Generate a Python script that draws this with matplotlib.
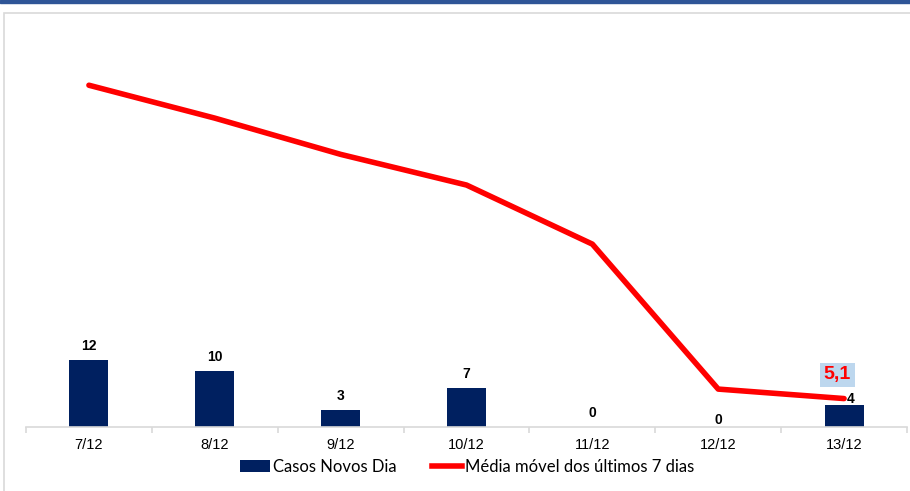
"""Casos novos por dia e média móvel de 7 dias."""

import matplotlib

matplotlib.use("Agg")
import matplotlib.pyplot as plt
import numpy as np
from matplotlib.lines import Line2D
from matplotlib.patches import Patch, Rectangle

dias = ["7/12", "8/12", "9/12", "10/12", "11/12", "12/12", "13/12"]
casos = [12, 10, 3, 7, 0, 0, 4]
media_movel = [61.3, 55.4, 48.9, 43.4, 32.8, 6.8, 5.1]

AZUL = "#002060"
VERMELHO = "#FF0000"
CINZA = "#D9D9D9"

# deslocamento dos rótulos (pontos), como no gráfico original
desloc_x = [0, 0, 0, 0, 0, 0, 5]
desloc_y = [10, 10, 10, 10, 10, 5, 4]

fig = plt.figure(figsize=(9.1, 4.91), dpi=100)

# moldura e faixa superior
fig.patches.append(Rectangle((4 / 910, -0.1), 1.1, 1 - 12.5 / 491 + 0.1,
                             transform=fig.transFigure, fill=False,
                             edgecolor=CINZA, linewidth=1.2))
fig.patches.append(Rectangle((0, 1 - 2.5 / 491), 1, 2.5 / 491,
                             transform=fig.transFigure, color="#2F5597"))

ax = fig.add_axes([26 / 910, 1 - 427 / 491, 881 / 910, 407 / 491])
x = np.arange(len(dias))

ax.bar(x, casos, width=0.31, color=AZUL, zorder=2)
ax.plot(x, media_movel, color=VERMELHO, linewidth=4, zorder=3,
        solid_capstyle="round")

for xi, v, dx, dy in zip(x, casos, desloc_x, desloc_y):
    ax.annotate(str(v), (xi, v), xytext=(dx, dy), textcoords="offset points",
                ha="center", va="center", fontsize=10, fontweight="bold",
                family="Liberation Sans", zorder=4)

ax.annotate(f"{media_movel[-1]:.1f}".replace(".", ","), (x[-1], media_movel[-1]),
            xytext=(-5, 17), textcoords="offset points",
            ha="center", va="center", fontsize=14, fontweight="bold",
            color=VERMELHO, family="Liberation Sans", zorder=5,
            bbox=dict(boxstyle="square,pad=0.2", facecolor="#BDD7EE",
                      edgecolor="none"))

ax.set_xlim(-0.5, len(dias) - 0.5)
ax.set_ylim(0, 73)
for s in ["top", "right", "left"]:
    ax.spines[s].set_visible(False)
ax.spines["bottom"].set_color(CINZA)
ax.spines["bottom"].set_linewidth(1.2)
ax.set_yticks([])
ax.set_xticks(np.arange(-0.5, len(dias)), minor=False)
ax.set_xticklabels([])
ax.set_xticks(x, minor=True)
ax.set_xticklabels(dias, minor=True, fontsize=10.5, family="Liberation Sans")
ax.tick_params(axis="x", which="major", length=4, color=CINZA, width=1.2)
ax.tick_params(axis="x", which="minor", length=0, pad=8)

handles = [Patch(facecolor=AZUL, label="Casos Novos Dia"),
           Line2D([], [], color=VERMELHO, linewidth=4, label="Média móvel dos últimos 7 dias")]
fig.legend(handles=handles, loc="center", bbox_to_anchor=(467 / 910, 1 - 467 / 491),
           ncol=2, frameon=False, prop={"family": "Lato", "size": 12},
           handlelength=1.8, handletextpad=0.2, columnspacing=2.1)

fig.savefig("out.png", dpi=100)
